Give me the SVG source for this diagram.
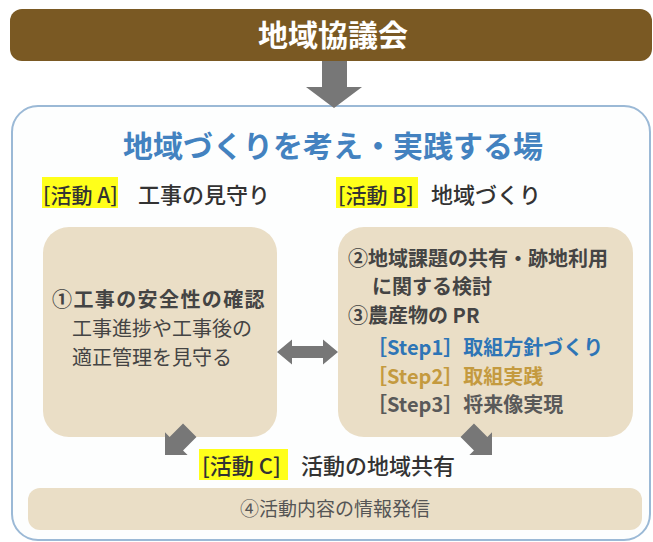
<svg xmlns="http://www.w3.org/2000/svg" width="653" height="542" viewBox="0 0 653 542">
<style>
text{font-family:"Noto Sans CJK JP","Noto Sans",sans-serif;}
.box{fill:#eadec6;}
.arr{fill:#777777;}
.hl{fill:#ffff1a;}
.act{font-size:22px;font-weight:500;fill:#333333;}
.br{font-size:21px;}
.b{font-weight:bold;}
.t{font-size:20px;fill:#444444;}
.s1{fill:#2e75b6;}
.s2{fill:#c49a3f;}
.s3{fill:#595959;}
</style>
<defs>
<path id="darr" d="M0,0 L16,-16 L9.5,-16 L9.5,-35 L-9.5,-35 L-9.5,-16 L-16,-16 Z"/>
</defs>
<rect width="653" height="542" fill="#ffffff"/>
<g id="council">
<rect x="10" y="9" width="642" height="52" rx="12" fill="#7a5923"/>
<text x="333" y="46" text-anchor="middle" font-size="30" font-weight="bold" fill="#ffffff">地域協議会</text>
</g>
<g id="place">
<rect x="12" y="106" width="638" height="434" rx="26" fill="#fdfefe" stroke="#9bb9d6" stroke-width="2"/>
<text x="333" y="157" text-anchor="middle" font-size="30" font-weight="bold" fill="#4382c0">地域づくりを考え・実践する場</text>
</g>
<g id="activityA-label">
<rect class="hl" x="42" y="177" width="76" height="31"/>
<text class="act br" x="43" y="203">[活動 A]</text>
<text class="act" x="138" y="203">工事の見守り</text>
</g>
<g id="activityB-label">
<rect class="hl" x="336" y="177" width="82" height="31"/>
<text class="act br" x="338" y="203">[活動 B]</text>
<text class="act" x="431" y="203">地域づくり</text>
</g>
<g id="boxA">
<rect class="box" x="43" y="227" width="234" height="210" rx="26"/>
<text class="t b" x="52" y="307" font-size="21" letter-spacing="1.4">①工事の安全性の確認</text>
<text class="t" x="72" y="336">工事進捗や工事後の</text>
<text class="t" x="72" y="365">適正管理を見守る</text>
</g>
<g id="boxB">
<rect class="box" x="338" y="227" width="295" height="210" rx="26"/>
<text class="t b" x="348" y="266">②地域課題の共有・跡地利用</text>
<text class="t b" x="372" y="294">に関する検討</text>
<text class="t b" x="348" y="323">③農産物の PR</text>
<text class="t b s1" x="367" y="355">［Step1］取組方針づくり</text>
<text class="t b s2" x="367" y="384">［Step2］取組実践</text>
<text class="t b s3" x="367" y="412">［Step3］将来像実現</text>
</g>
<g id="activityC-label">
<rect class="hl" x="199" y="449" width="89" height="31"/>
<text class="act" x="202" y="474">[活動 C]</text>
<text class="act" x="301" y="474">活動の地域共有</text>
</g>
<g id="boxC">
<rect class="box" x="28" y="488" width="614" height="42" rx="12"/>
<text x="335" y="516" text-anchor="middle" font-size="19" fill="#555555">④活動内容の情報発信</text>
</g>
<g id="connectors">
<path class="arr" d="M322,61 H347 V87 H362 L334,108 L306,87 H322 Z"/>
<path class="arr" d="M277,352 L292,339.5 L292,346 L323,346 L323,339.5 L338,352 L323,364.5 L323,358 L292,358 L292,364.5 Z"/>
<use class="arr" href="#darr" transform="translate(165,455) rotate(45)"/>
<use class="arr" href="#darr" transform="translate(492,455) rotate(-45)"/>
</g>
</svg>
